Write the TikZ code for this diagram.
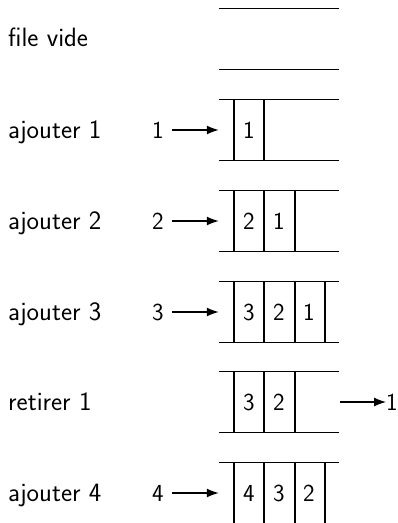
\documentclass[tikz,border=0pt]{standalone}
\usepackage{fontspec}
\usetikzlibrary{arrows.meta}
\tikzset{
  bar/.style={line width=1.3pt},
  oplabel/.style={anchor=base west, inner sep=0pt, font=\sffamily\fontsize{26.5}{30}\selectfont},
  numin/.style={inner ysep=0pt, inner xsep=8pt, font=\sffamily\fontsize{24.5}{28}\selectfont},
  numout/.style={inner sep=0pt, font=\sffamily\fontsize{24.5}{28}\selectfont},
  cellnum/.style={font=\sffamily\fontsize{24.5}{28}\selectfont},
  filebox/.style={minimum width=120pt, minimum height=60pt, inner sep=0pt},
  push/.style={bar, -{Latex[length=12pt,width=9pt]}},
}
\begin{document}
\begin{tikzpicture}[x=1pt,y=-1pt]
\useasboundingbox (0,0) rectangle (398,523);

% one queue per row: rails and cell contents
% #1 node name, #2 row centre, #3 list of index/content
\newcommand{\queuerow}[3]{%
  \node[filebox] (#1) at (279,#2) {};
  \draw[bar] (#1.north west) -- (#1.north east);
  \draw[bar] (#1.south west) -- (#1.south east);
  \foreach \k/\v in {#3} {%
    \ifx\v\empty\else
      \node[cellnum] at (249+30*\k,#2) {\v};
    \fi
  }%
}

% empty queue
\queuerow{f0}{39}{}
\node[oplabel] (l0) at (8,46) {file vide};

% ajouter 1
\queuerow{f1}{130}{0/1}
\foreach \x in {234,264} \draw[bar] (\x,100) -- (\x,160);
\node[oplabel] (l1) at (8,138) {ajouter 1};
\node[numin] (n1) at (158,130) {1};
\draw[push] (n1.east) -- (f1.west);

% ajouter 2
\queuerow{f2}{221}{0/2,1/1}
\foreach \x in {234,264,295} \draw[bar] (\x,191) -- (\x,251);
\node[oplabel] (l2) at (8,229) {ajouter 2};
\node[numin] (n2) at (158,221) {2};
\draw[push] (n2.east) -- (f2.west);

% ajouter 3
\queuerow{f3}{312}{0/3,1/2,2/1}
\foreach \x in {234,264,295,325} \draw[bar] (\x,282) -- (\x,342);
\node[oplabel] (l3) at (8,320) {ajouter 3};
\node[numin] (n3) at (158,312) {3};
\draw[push] (n3.east) -- (f3.west);

% retirer 1
\queuerow{f4}{402}{0/3,1/2}
\foreach \x in {234,264,295} \draw[bar] (\x,372) -- (\x,432);
\node[oplabel] (l4) at (8,410) {retirer 1};
\node[numout] (o4) at (392,402) {1};
\draw[push] (f4.east) ++(1,0) coordinate (e4) (e4) -- (o4.west);

% ajouter 4
\queuerow{f5}{493}{0/4,1/3,2/2}
\foreach \x in {234,264,295,325} \draw[bar] (\x,463) -- (\x,523);
\node[oplabel] (l5) at (8,501) {ajouter 4};
\node[numin] (n5) at (158,493) {4};
\draw[push] (n5.east) -- (f5.west);
\end{tikzpicture}
\end{document}
